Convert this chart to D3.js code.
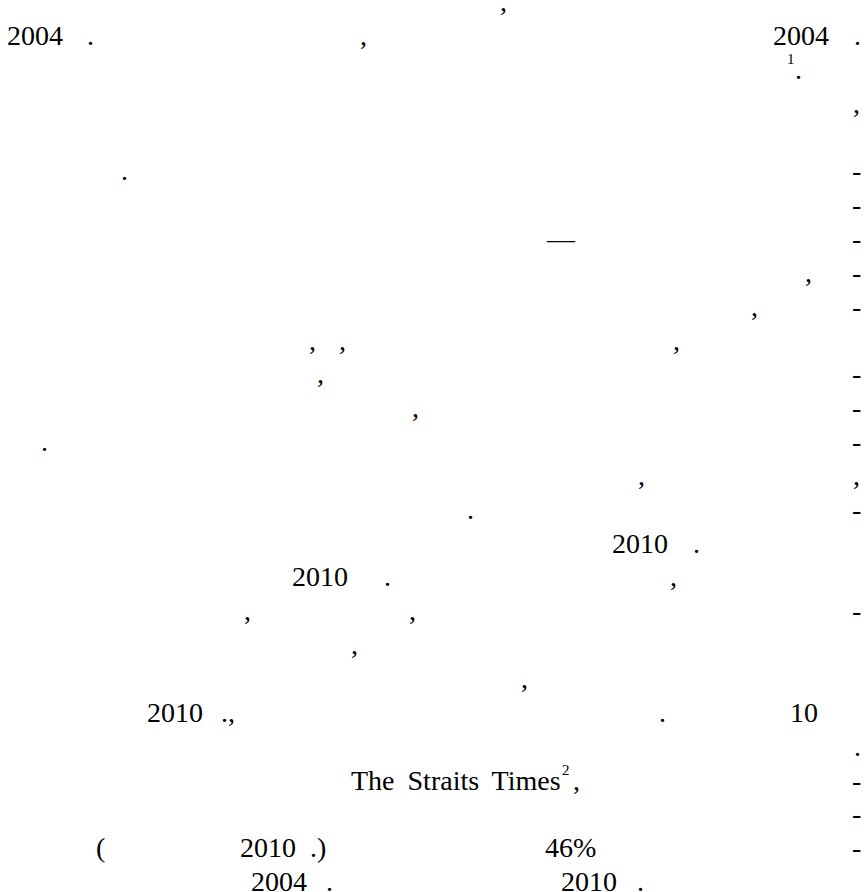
<!DOCTYPE html>
<html>
<head lang="ru">
    <meta charset="UTF-8">
    <script type="text/javascript" src="https://d3js.org/d3.v7.min.js"></script>
    <style>
        body { margin: 0; background: #fff; }
        text { font-family: "Liberation Serif", "Times New Roman", serif; fill: #000; }
    </style>
</head>
<body>
    <svg id="page" width=866 height=892></svg>
    <script>
        // page text: only the latin, digits and punctuation survive
        // each entry is [line, column(px on page), text]
        var numbers = [
            [2, 7, "2004"], [2, 773, "2004"],
            [17, 612, "2010"],
            [18, 292, "2010"],
            [22, 147, "2010"], [22, 790, "10"],
            [26, 240, "2010"], [26, 545, "46%"],
            [27, 251, "2004"], [27, 561, "2010"]
        ];
        var punct = [
            [1, 500, ","],
            [2, 87, "."], [2, 360, ","], [2, 854, "."],
            [3, 795, "."],
            [4, 853, ","],
            [6, 121, "."],
            [8, 547, "\u2014"],
            [9, 805, ","],
            [10, 751, ","],
            [11, 309, ","], [11, 339, ","], [11, 673, ","],
            [12, 317, ","],
            [13, 412, ","],
            [14, 41, "."],
            [15, 638, ","], [15, 853, ","],
            [16, 467, "."],
            [17, 693, "."],
            [18, 384, "."], [18, 670, ","],
            [19, 244, ","], [19, 409, ","],
            [20, 351, ","],
            [21, 521, ","],
            [22, 221, ".,"], [22, 659, "."],
            [23, 854, "."],
            [24, 573, ","],
            [26, 96, "("], [26, 310, ".)"],
            [27, 326, "."], [27, 637, "."]
        ];
        // lines that end with a hyphen on the right margin
        var hyphenLines = [6, 7, 8, 9, 10, 12, 13, 14, 16, 19, 24, 25, 26];
        var phrases = [[24, 351, "The Straits Times"]];
        var footnotes = [[3, 787, "1"], [24, 562, "2"]];

        var svgWidth = 866;
        var svgHeight = 892;
        var fontSize = 28;

        var yLine = d3.scaleLinear().domain([1, 27]).range([11, 11 + 26 * 33.85]);
        var xPage = d3.scaleLinear().domain([0, 866]).range([0, svgWidth]);

        var svg = d3.select("#page");
        svg.append("rect").attr("width", svgWidth).attr("height", svgHeight).attr("fill", "#fff");

        var g = svg.append("g");

        function drawFragments(list, cls, size, dy){
            return g.selectAll("text." + cls)
                .data(list)
                .enter()
                .append("text")
                    .attr("class", cls)
                    .attr("x", function(d){return xPage(d[1]);})
                    .attr("y", function(d){return yLine(d[0]) + dy;})
                    .attr("font-size", size)
                    .text(function(d){return d[2];});
        }

        drawFragments(numbers, "num", fontSize, 0);
        drawFragments(punct, "punct", fontSize, 0);
        // justified line, words sit a bit further apart
        drawFragments(phrases, "phrase", fontSize, 0).attr("word-spacing", 6);
        drawFragments(footnotes, "sup", 15, -15);

        g.selectAll("text.hyph")
            .data(hyphenLines)
            .enter()
            .append("text")
                .attr("class", "hyph")
                .attr("x", xPage(852))
                .attr("y", function(d){return yLine(d);})
                .attr("font-size", fontSize)
                .text("-");
    </script>
</body>
</html>
